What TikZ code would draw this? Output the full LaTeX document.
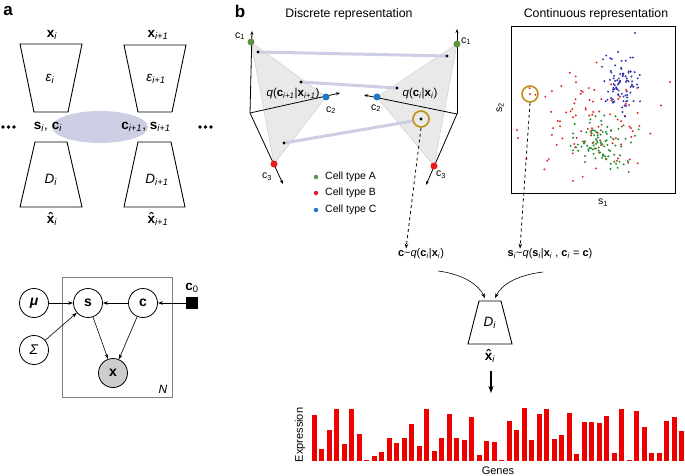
\documentclass[tikz,border=0pt]{standalone}
\usepackage{fontspec}
\setmainfont{Liberation Sans}
\usetikzlibrary{arrows.meta}
\newcommand{\ssub}[1]{\textsubscript{\textit{#1}}}
\newcommand{\hx}{\textbf{\rlap{\makebox[0.556em]{\raisebox{0.04em}{\char"02C6}}}x}}
\definecolor{lav}{RGB}{204,206,228}
\definecolor{triF}{RGB}{233,233,233}
\definecolor{triE}{RGB}{200,200,200}
\definecolor{cA}{RGB}{95,145,65}
\definecolor{cB}{RGB}{232,28,28}
\definecolor{cC}{RGB}{30,120,200}
\definecolor{sG}{RGB}{30,140,40}
\definecolor{sR}{RGB}{225,40,40}
\definecolor{sB}{RGB}{45,55,175}
\definecolor{gold}{RGB}{190,145,20}
\definecolor{barred}{RGB}{236,0,0}
\begin{document}
\begin{tikzpicture}[x=1pt,y=-1pt,
  trap/.style={draw,line width=0.9pt},
  lbl/.style={inner sep=0,font=\fontsize{13.5}{14}\selectfont},
  sml/.style={inner sep=0,font=\fontsize{10.5}{12}\selectfont},
  pm/.style={circle,draw,line width=0.8pt,minimum size=29pt,inner sep=0,font=\fontsize{14}{15}\selectfont},
  arr/.style={-{Stealth[length=5pt,width=3.5pt]},line width=0.6pt},
  ax/.style={-{Stealth[length=4pt,width=3pt]},line width=0.8pt},
  cdot/.style={circle,fill=#1,minimum size=7pt,inner sep=0},
  bdot/.style={circle,fill=black,minimum size=3.2pt,inner sep=0},
  ldot/.style={circle,fill=#1,minimum size=4.5pt,inner sep=0},
  band/.style={lav,line width=3pt},
  panel/.style={inner sep=0,font=\fontsize{17}{17}\selectfont\bfseries}]
\useasboundingbox (0,0) rectangle (685,476);

% ---------------- panel a ----------------
\node[panel] (la) at (8,11) {a};
\fill[lav] (100,127) ellipse [x radius=48pt, y radius=16pt];
\draw[trap] (20,44) -- (82,44) -- (68,112) -- (34,112) -- cycle;
\draw[trap] (124,45) -- (186,45) -- (172,112) -- (138,112) -- cycle;
\draw[trap] (35,142) -- (67,142) -- (82,207) -- (20,207) -- cycle;
\draw[trap] (138,142) -- (171,142) -- (185,207) -- (124,207) -- cycle;
\node[lbl] (xi) at (52,35) {\textbf{x}\ssub{i}};
\node[lbl] (xi1) at (158,35) {\textbf{x}\ssub{i+1}};
\node[lbl] (ei) at (50,79) {\textit{ε}\ssub{i}};
\node[lbl] (ei1) at (156,79) {\textit{ε}\ssub{i+1}};
\node[lbl] (si) at (48,127) {\textbf{s}\ssub{i}, \textbf{c}\ssub{i}};
\node[lbl] (ci1) at (146,127) {\textbf{c}\ssub{i+1}, \textbf{s}\ssub{i+1}};
\node[lbl] (di) at (51,180) {\textit{D}\ssub{i}};
\node[lbl] (di1) at (157,180) {\textit{D}\ssub{i+1}};
\node[lbl] (xhi) at (52,219) {\hx\ssub{i}};
\node[lbl] (xhi1) at (158,219) {\hx\ssub{i+1}};
\foreach \xx in {3,8.5,14,200,205.5,211} \fill (\xx,127) circle (1.8pt);

% graphical model
\draw[gray,line width=0.8pt] (62,277) rectangle (172,397);
\node[sml,font=\fontsize{12}{12}\selectfont\itshape] (N) at (163,389) {N};
\node[pm] (mu) at (34,303) {\textbf{\textit{μ}}};
\node[pm] (sig) at (34,350) {\textit{Σ}};
\node[pm] (s) at (88,303) {\textbf{s}};
\node[pm] (c) at (143,303) {\textbf{c}};
\node[pm,fill=black!20] (x) at (113,373) {\textbf{x}};
\node[draw,fill=black,minimum size=11pt,inner sep=0] (c0) at (192,303) {};
\node[lbl] (c0l) at (192,288) {\textbf{c}\textsubscript{0}};
\draw[arr] (mu) -- (s);
\draw[arr] (sig) -- (s);
\draw[arr] (c) -- (s);
\draw[arr] (c0) -- (c);
\draw[arr] (s) -- (x);
\draw[arr] (c) -- (x);

% ---------------- panel b ----------------
\node[panel] (lb) at (240,11) {b};
\node[sml,font=\fontsize{12.3}{13}\selectfont] (dr) at (349,14) {Discrete representation};
\node[sml,font=\fontsize{12.3}{13}\selectfont] (cr) at (596,14) {Continuous representation};

% simplex coordinates
\coordinate (OL) at (250,113);
\coordinate (L1) at (252,31);
\coordinate (L2) at (340,93);
\coordinate (L3) at (283,184);
\coordinate (OR) at (457,114);
\coordinate (R1) at (457,29);
\coordinate (R2) at (364,95);
\coordinate (R3) at (426,185);

\filldraw[fill=triF,draw=triE,line width=0.4pt] (251,42) -- (326,97) -- (274,164) -- cycle;
\filldraw[fill=triF,draw=triE,line width=0.4pt] (457,44) -- (377,97) -- (434,166) -- cycle;

% lavender correspondences
\draw[band] (258,52) -- (447,56);
\draw[band] (301,82) -- (397,88);
\draw[band] (284,143) -- (413,121);

\draw[ax] (OL) -- (L1);
\draw[ax] (OL) -- (L2);
\draw[ax] (OL) -- (L3);
\draw[ax] (OR) -- (R1);
\draw[ax] (OR) -- (R2);
\draw[ax] (OR) -- (R3);

\node[cdot=cA] (gA) at (251,42) {};
\node[cdot=cC] (gC) at (326,97) {};
\node[cdot=cB] (gB) at (274,164) {};
\node[cdot=cA] (hA) at (457,44) {};
\node[cdot=cC] (hC) at (377,97) {};
\node[cdot=cB] (hB) at (434,166) {};
\node[bdot] (p1) at (258,52) {};
\node[bdot] (p2) at (301,82) {};
\node[bdot] (p3) at (284,143) {};
\node[bdot] (q1) at (447,56) {};
\node[bdot] (q2) at (397,88) {};
\node[bdot] (q3) at (421,119) {};
\node[circle,draw=gold,line width=1.6pt,minimum size=16pt,inner sep=0] (gc1) at (421,119) {};

\node[sml] at (240,36) {c\textsubscript{1}};
\node[sml] at (466,41) {c\textsubscript{1}};
\node[sml] at (331,110) {c\textsubscript{2}};
\node[sml] at (376,108) {c\textsubscript{2}};
\node[sml] at (267,177) {c\textsubscript{3}};
\node[sml] at (441,175) {c\textsubscript{3}};
\node[lbl,font=\fontsize{11.5}{12}\selectfont] (qL) at (293,94) {\textit{q}(\textbf{c}\ssub{i+1}|\textbf{x}\ssub{i+1})};
\node[lbl,font=\fontsize{11.5}{12}\selectfont] (qR) at (420,94) {\textit{q}(\textbf{c}\ssub{i}|\textbf{x}\ssub{i})};

% legend
\node[ldot=cA] (lgA) at (316,177) {};
\node[ldot=cB] (lgB) at (316,193) {};
\node[ldot=cC] (lgC) at (316,210) {};
\node[sml,anchor=west] at (325,177) {Cell type A};
\node[sml,anchor=west] at (325,193) {Cell type B};
\node[sml,anchor=west] at (325,210) {Cell type C};

% scatter
\draw[line width=0.9pt] (511,26) rectangle (675,193);
\begin{scope}
\clip (512,27) rectangle (674,192);
\pgfmathsetseed{7}
\foreach \k in {1,...,95}{
  \pgfmathsetmacro\px{590+33*(rand+rand+rand)/1.1}
  \pgfmathsetmacro\py{118+28*(rand+rand+rand)/1.1}
  \fill[sR] (\px,\py) circle (1.1pt);}
\foreach \k in {1,...,95}{
  \pgfmathsetmacro\px{604+17*(rand+rand+rand)/1.1}
  \pgfmathsetmacro\py{140+15*(rand+rand+rand)/1.1}
  \fill[sG] (\px,\py) circle (1.1pt);}
\foreach \k in {1,...,90}{
  \pgfmathsetmacro\px{621+10*(rand+rand+rand)/1.1}
  \pgfmathsetmacro\py{86+16*(rand+rand+rand)/1.1}
  \fill[sB] (\px,\py) circle (1.1pt);}
\fill[sB] (635,33) circle (1.1pt);
\fill[sR] (670,82) circle (1.1pt);
\fill[sR] (517,130) circle (1.1pt);
\fill[sR] (518,138) circle (1.1pt);
\end{scope}
\node[circle,fill=sR,minimum size=2.4pt,inner sep=0] (rp) at (530,94) {};
\node[circle,draw=gold,line width=1.6pt,minimum size=16pt,inner sep=0] (gc2) at (530,94) {};
\node[sml] (s1) at (603,203) {s\textsubscript{1}};
\node[sml,rotate=90] (s2) at (500,108) {s\textsubscript{2}};

% sampling labels
\node[lbl,font=\fontsize{11}{12}\selectfont] (cq) at (421,254) {\textbf{c}\textasciitilde\textit{q}(\textbf{c}\ssub{i}|\textbf{x}\ssub{i})};
\node[lbl,font=\fontsize{11}{12}\selectfont] (sq) at (550,254) {\textbf{s}\ssub{i}\textasciitilde\textit{q}(\textbf{s}\ssub{i}|\textbf{x}\ssub{i} , \textbf{c}\ssub{i} = \textbf{c})};
\draw[arr,dashed,line width=0.8pt] (gc1.south) -- (cq.north -| 406,0);
\draw[arr,dashed,line width=0.8pt] (gc2.south) -- (sq.north -| 520,0);

% decoder
\draw[trap] (479,301) -- (501,301) -- (512,344) -- (468,344) -- cycle;
\node[lbl] (dB) at (490,323) {\textit{D}\ssub{i}};
\node[lbl] (xB) at (490,356) {\hx\ssub{i}};
\coordinate (cqS) at (438,271);
\coordinate (sqS) at (543,272);
\coordinate (dL) at (485,298);
\coordinate (dR) at (495,298);
\draw[arr] (cqS) .. controls (462,274) and (478,284) .. (dL);
\draw[arr] (sqS) .. controls (518,275) and (502,284) .. (dR);
\coordinate (bt) at (491,393);
\draw[-{Stealth[length=7pt,width=5pt]},line width=1.4pt] (491,371) -- (bt);

% bar chart
\foreach \h [count=\i] in {139,35,94,155,52,157,82,4,14,27,69,54,69,112,45,155,29,69,140,69,64,133,17,60,56,4,119,92,159,62,142,155,65,79,144,20,118,118,115,134,24,155,4,150,102,23,23,121,131,91}{
  \pgfmathsetmacro\xc{314.3+7.5*(\i-1)}
  \fill[barred] (\xc-2.6,461) rectangle (\xc+2.6,461-\h/3);}
\node[sml,font=\fontsize{11}{12}\selectfont,rotate=90] (ex) at (300,435) {Expression};
\node[sml,font=\fontsize{11}{12}\selectfont] (gn) at (498,471) {Genes};
\end{tikzpicture}
\end{document}
